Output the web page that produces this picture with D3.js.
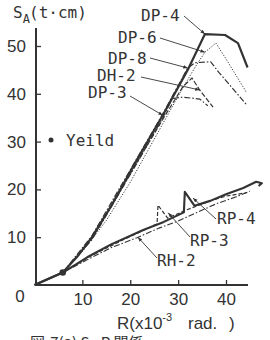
<!DOCTYPE html>
<html><head><meta charset="utf-8">
<script src="https://cdn.jsdelivr.net/npm/d3@7"></script>
<style>
html,body{margin:0;padding:0;background:#fff;}
svg{display:block;}
</style></head>
<body>
<script>
// ---- data (R in 1e-3 rad, S_A in t·cm) ----
const xTicks = [10, 20, 30, 40];
const yTicks = [10, 20, 30, 40, 50];
const yieldPoint = [5.9, 2.6];

const dp4R = [0, 5.9, 9, 12, 16, 21, 26.8, 32, 35.6, 39.8, 42.5, 44.5];
const dp4S = [0, 2.6, 6, 10, 16.5, 25.5, 35.5, 45, 52.5, 52.3, 50.6, 45.5];

const dp6R = [5.9, 10, 15, 20, 25, 30, 33.5, 35.6, 37.9, 40.5, 44.2];
const dp6S = [2.6, 7, 13.5, 21.5, 30.5, 39.5, 45.5, 48.7, 50.6, 46.5, 40.4];

const dp8R = [5.9, 12, 21, 26.8, 32, 33.5, 36.8, 38.5, 41.5, 44.3];
const dp8S = [2.6, 10.3, 25.8, 35.8, 45.4, 46.5, 46.7, 44.5, 41, 37.7];

const dh2R = [5.9, 12, 21, 27, 31, 32.9, 34.5, 37.3];
const dh2S = [2.6, 9.7, 25, 35, 41.5, 43.3, 40.8, 37.2];

const dp3R = [5.9, 12, 21, 26.8, 28.8, 31, 34.5, 36.2];
const dp3S = [2.6, 9.5, 24.8, 35, 39, 39.3, 38.9, 37.5];

const rp4R = [0, 5.9, 11, 16, 22.7, 27, 31.2, 31.4, 33.4, 36.7, 40, 43.6, 46.3, 47.5, 46.8];
const rp4S = [0, 2.6, 5.8, 8.5, 11.5, 13.2, 15.2, 19.5, 16.6, 17.6, 19.0, 20.3, 21.6, 21.3, 20.7];

const rp3R = [5.9, 12, 18, 22.7, 25.6, 25.8, 27.8, 32, 36.7, 40, 44.3];
const rp3S = [2.6, 6.2, 9.2, 11.4, 12.8, 16.7, 14.0, 15.8, 17.6, 18.6, 19.3];

const rh2R = [5.9, 12, 16, 21.4, 26, 30, 34, 38, 42, 45];
const rh2S = [2.6, 5.8, 7.8, 9.9, 11.9, 13.4, 15.2, 17.0, 18.4, 19.6];

// label names and the data point each leader arrow points to
const labelNames = ["DP-4", "DP-6", "DP-8", "DH-2", "DP-3", "RP-4", "RP-3", "RH-2"];
const labelTipR = [35.6, 35.6, 32, 34.5, 26.8, 33.1, 27.9, 21.6];
const labelTipS = [52.5, 48.7, 45.4, 40.8, 35.5, 18.2, 15.1, 10];

// ---- layout ----
const W = 270, H = 340;
const svg = d3.select("body").append("svg").attr("width", W).attr("height", H);
const ink = "#333";
const mono = "'DejaVu Sans Mono', monospace";
const narrow = "'Liberation Sans Narrow', 'Liberation Sans', Arial, sans-serif";

const x = d3.scaleLinear().domain([0, 40]).range([34.5, 226]);
const y = d3.scaleLinear().domain([0, 50]).range([285, 46]);

// axes
svg.append("line").attr("x1", 36).attr("x2", 36).attr("y1", 28).attr("y2", 286)
  .attr("stroke", ink).attr("stroke-width", 2);
svg.append("line").attr("x1", 35).attr("x2", 248).attr("y1", 285).attr("y2", 285)
  .attr("stroke", ink).attr("stroke-width", 2);

const gy = svg.append("g").attr("transform", "translate(36,0)")
  .call(d3.axisLeft(y).tickValues(yTicks).tickSizeInner(-5).tickSizeOuter(0).tickPadding(10));
gy.select(".domain").remove();
const gx = svg.append("g").attr("transform", "translate(0,285)")
  .call(d3.axisBottom(x).tickValues(xTicks).tickSizeInner(-5).tickSizeOuter(0).tickPadding(8));
gx.select(".domain").remove();
[gx, gy].forEach(g => {
  g.selectAll(".tick line").attr("stroke", ink).attr("stroke-width", 1.3);
  g.selectAll(".tick text").attr("fill", ink).style("font-family", narrow).style("font-size", "17px");
});
svg.append("text").attr("x", 20).attr("y", 302).attr("text-anchor", "middle")
  .attr("fill", ink).style("font-family", narrow).style("font-size", "17px").text("0");

// title
const t = svg.append("text").attr("x", 13).attr("y", 18).attr("fill", ink)
  .style("font-family", mono).style("font-size", "16px");
t.append("tspan").text("S");
t.append("tspan").attr("dy", 5).style("font-size", "12px").text("A");
t.append("tspan").attr("x", 29).attr("dy", -5).text("(t·cm)");

// x label
const xl = svg.append("text").attr("x", 117).attr("y", 329).attr("fill", ink)
  .style("font-family", narrow).style("font-size", "17px");
xl.append("tspan").text("R(x10");
xl.append("tspan").attr("dy", -8).style("font-size", "11px").text("-3");
xl.append("tspan").attr("x", 188).attr("dy", 8).text("rad.");
xl.append("tspan").attr("x", 229).text(")");

// caption (cut off at bottom, as in the source figure)
const cap = svg.append("text").attr("x", 30).attr("y", 348).attr("fill", ink)
  .style("font-family", "'Noto Sans CJK JP', sans-serif").style("font-size", "15px");
cap.append("tspan").text("図-7(a) S");
cap.append("tspan").style("font-size", "10px").text("A");
cap.append("tspan").text("-R 関係");

// curves
const line = d3.line().x(d => x(d[0])).y(d => y(d[1]));
const zip = (a, b) => a.map((v, i) => [v, b[i]]);
const curves = [
  {R: rp4R, S: rp4S, w: 2.1, dash: null},
  {R: rp3R, S: rp3S, w: 1.2, dash: "4,2"},
  {R: rh2R, S: rh2S, w: 1.1, dash: "6,2,1.5,2"},
  {R: dp6R, S: dp6S, w: 1.0, dash: "1.2,1.6"},
  {R: dp8R, S: dp8S, w: 1.2, dash: "6,2,1.5,2"},
  {R: dh2R, S: dh2S, w: 1.2, dash: "5,2"},
  {R: dp3R, S: dp3S, w: 1.2, dash: "6,2,1.5,2"},
  {R: dp4R, S: dp4S, w: 2.2, dash: null}
];
svg.append("g").selectAll("path").data(curves).join("path")
  .attr("d", c => line(zip(c.R, c.S)))
  .attr("fill", "none").attr("stroke", ink)
  .attr("stroke-width", c => c.w)
  .attr("stroke-dasharray", c => c.dash)
  .attr("stroke-linejoin", "round");

// yield point + legend
svg.append("circle").attr("cx", x(yieldPoint[0])).attr("cy", y(yieldPoint[1])).attr("r", 3.3).attr("fill", ink);
svg.append("circle").attr("cx", 51).attr("cy", 140).attr("r", 2.5).attr("fill", ink);
svg.append("text").attr("x", 66).attr("y", 146).attr("fill", ink)
  .style("font-family", mono).style("font-size", "16px").text("Yeild");

// labels with leader arrows
svg.append("defs").append("marker").attr("id", "ah").attr("viewBox", "0 0 10 10")
  .attr("refX", 10).attr("refY", 5).attr("markerWidth", 5).attr("markerHeight", 5)
  .attr("orient", "auto").append("path").attr("d", "M0,1 L10,5 L0,9 Z").attr("fill", ink);

const labelPos = [ // text x, baseline y, leader start x, y
  [141, 21, 184, 16],
  [118, 43, 160, 38],
  [108, 64, 150, 58],
  [97, 81, 141, 77],
  [88, 98, 130, 96],
  [217, 224, 216, 219],
  [190, 246, 190, 237],
  [157, 266, 157, 258]
];
labelNames.forEach((n, i) => {
  const p = labelPos[i];
  svg.append("text").attr("x", p[0]).attr("y", p[1]).attr("fill", ink)
    .style("font-family", mono).style("font-size", "16px").text(n);
  svg.append("line").attr("x1", p[2]).attr("y1", p[3])
    .attr("x2", x(labelTipR[i])).attr("y2", y(labelTipS[i]))
    .attr("stroke", ink).attr("stroke-width", 0.9).attr("marker-end", "url(#ah)");
});
</script>
</body></html>
